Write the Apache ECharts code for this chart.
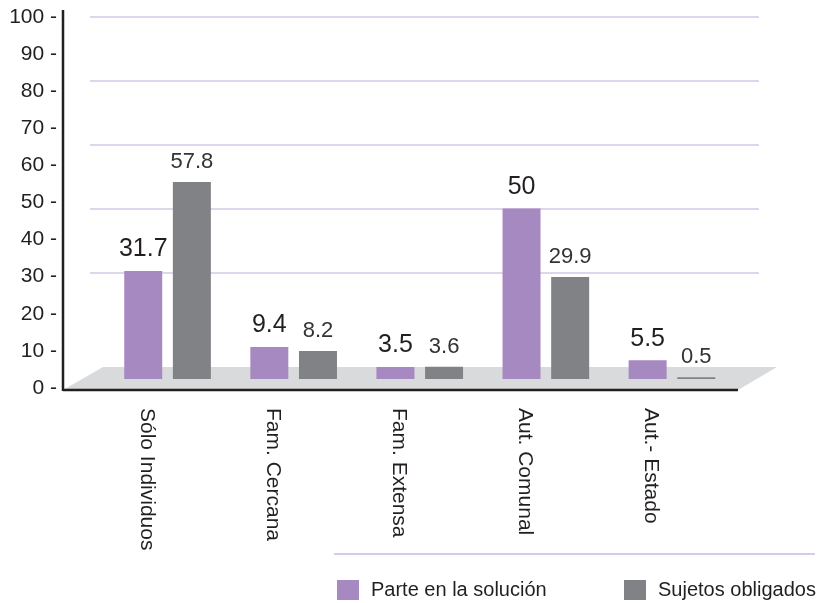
<!DOCTYPE html>
<html>
<head>
<meta charset="utf-8">
<script src="https://cdn.jsdelivr.net/npm/echarts@6/dist/echarts.min.js"></script>
<style>
  html, body { margin: 0; padding: 0; background: #fff; }
  #chart { width: 818px; height: 603px; }
</style>
</head>
<body>
<div id="chart"></div>
<script>
// data
var categories = ['Sólo Individuos', 'Fam. Cercana', 'Fam. Extensa', 'Aut. Comunal', 'Aut.- Estado'];
var parteSolucion = [31.7, 9.4, 3.5, 50, 5.5];
var sujetosObligados = [57.8, 8.2, 3.6, 29.9, 0.5];
var seriesNames = ['Parte en la solución', 'Sujetos obligados'];

// layout (pixels)
var axisX = 63, axisRight = 738;
var plotTop = 17, zeroY = 388;
var floorFront = 390, floorBack = 367, floorShift = 39;
var barLeft = 104.5, barWidthAll = 630.5;
var barBase = 379, barScale = 3.41;   // bars stand on the middle of the floor
var font = '"Liberation Sans", Arial, sans-serif';
var ink = '#231f20';
var purple = '#a689c0', grey = '#818285';

var chartDom = document.getElementById('chart');
var chart = echarts.init(chartDom);

// hidden value axis for the bars: 0 sits at barBase
var plotH = zeroY - plotTop;
var barMin = -(zeroY - barBase) / barScale;
var barMax = (barBase - plotTop) / barScale;

function legendAt(left, name) {
    return {
        left: left, top: 575,
        itemWidth: 22, itemHeight: 20,
        icon: 'rect',
        data: [name],
        textStyle: { fontSize: 20, color: ink, fontFamily: font, padding: [0, 0, 0, 7] }
    };
}

var option = {
    animation: false,
    textStyle: { fontFamily: font },
    grid: [
        // y axis labels
        { left: axisX, top: plotTop, width: axisRight - axisX, height: plotH },
        // bars
        { left: barLeft, top: plotTop, width: barWidthAll, height: plotH },
        // category labels (sit a little left of the bars)
        { left: barLeft - 21, top: plotTop, width: barWidthAll, height: plotH },
        // back wall grid lines
        { left: 90, top: plotTop, width: 669, height: 256 }
    ],
    xAxis: [
        { gridIndex: 0, type: 'value', min: 0, max: 1, show: false },
        { gridIndex: 1, type: 'category', data: categories, show: false },
        {
            gridIndex: 2, type: 'category', data: categories,
            axisLine: { show: false }, axisTick: { show: false },
            axisLabel: { rotate: -90, margin: 20, fontSize: 21, color: ink, fontFamily: font }
        },
        { gridIndex: 3, type: 'value', min: 0, max: 1, show: false }
    ],
    yAxis: [
        {
            gridIndex: 0, type: 'value', min: 0, max: 100, interval: 10,
            axisLine: { show: false }, axisTick: { show: false }, splitLine: { show: false },
            axisLabel: { formatter: '{value} -', fontSize: 21, color: ink, margin: 6, fontFamily: font }
        },
        { gridIndex: 1, type: 'value', min: barMin, max: barMax, show: false },
        { gridIndex: 2, type: 'value', min: 0, max: 1, show: false },
        {
            gridIndex: 3, type: 'value', min: 20, max: 100, interval: 20,
            axisLine: { show: false }, axisTick: { show: false }, axisLabel: { show: false },
            splitLine: { show: true, lineStyle: { color: '#d6c9e6', width: 1.5 } }
        }
    ],
    legend: [legendAt(332, seriesNames[0]), legendAt(619, seriesNames[1])],
    series: [
        {
            name: seriesNames[0], type: 'bar', xAxisIndex: 1, yAxisIndex: 1,
            data: parteSolucion, barWidth: 38, barGap: '28%', z: 5,
            itemStyle: { color: purple },
            label: { show: true, position: 'top', distance: 9, fontSize: 25, color: ink, fontFamily: font }
        },
        {
            name: seriesNames[1], type: 'bar', xAxisIndex: 1, yAxisIndex: 1,
            data: sujetosObligados, barWidth: 38, barGap: '28%', z: 5,
            itemStyle: { color: grey },
            label: { show: true, position: 'top', distance: 9, fontSize: 22, color: '#333', fontFamily: font }
        }
    ],
    graphic: [
        // grey floor
        {
            type: 'polygon', z: 0, silent: true,
            shape: { points: [[axisX, floorFront], [axisRight, floorFront],
                              [axisRight + floorShift, floorBack], [axisX + 40, floorBack]] },
            style: { fill: '#d9dadc' }
        },
        // axis lines
        {
            type: 'line', z: 100, silent: true,
            shape: { x1: axisX, y1: floorFront, x2: axisRight, y2: floorFront },
            style: { stroke: ink, lineWidth: 2.5 }
        },
        {
            type: 'line', z: 100, silent: true,
            shape: { x1: axisX, y1: 10, x2: axisX, y2: floorFront + 1 },
            style: { stroke: ink, lineWidth: 2.5 }
        },
        // rule above the legend
        {
            type: 'line', z: 100, silent: true,
            shape: { x1: 334, y1: 554, x2: 815, y2: 554 },
            style: { stroke: '#cdb9dd', lineWidth: 1.5 }
        }
    ]
};

chart.setOption(option);
</script>
</body>
</html>
